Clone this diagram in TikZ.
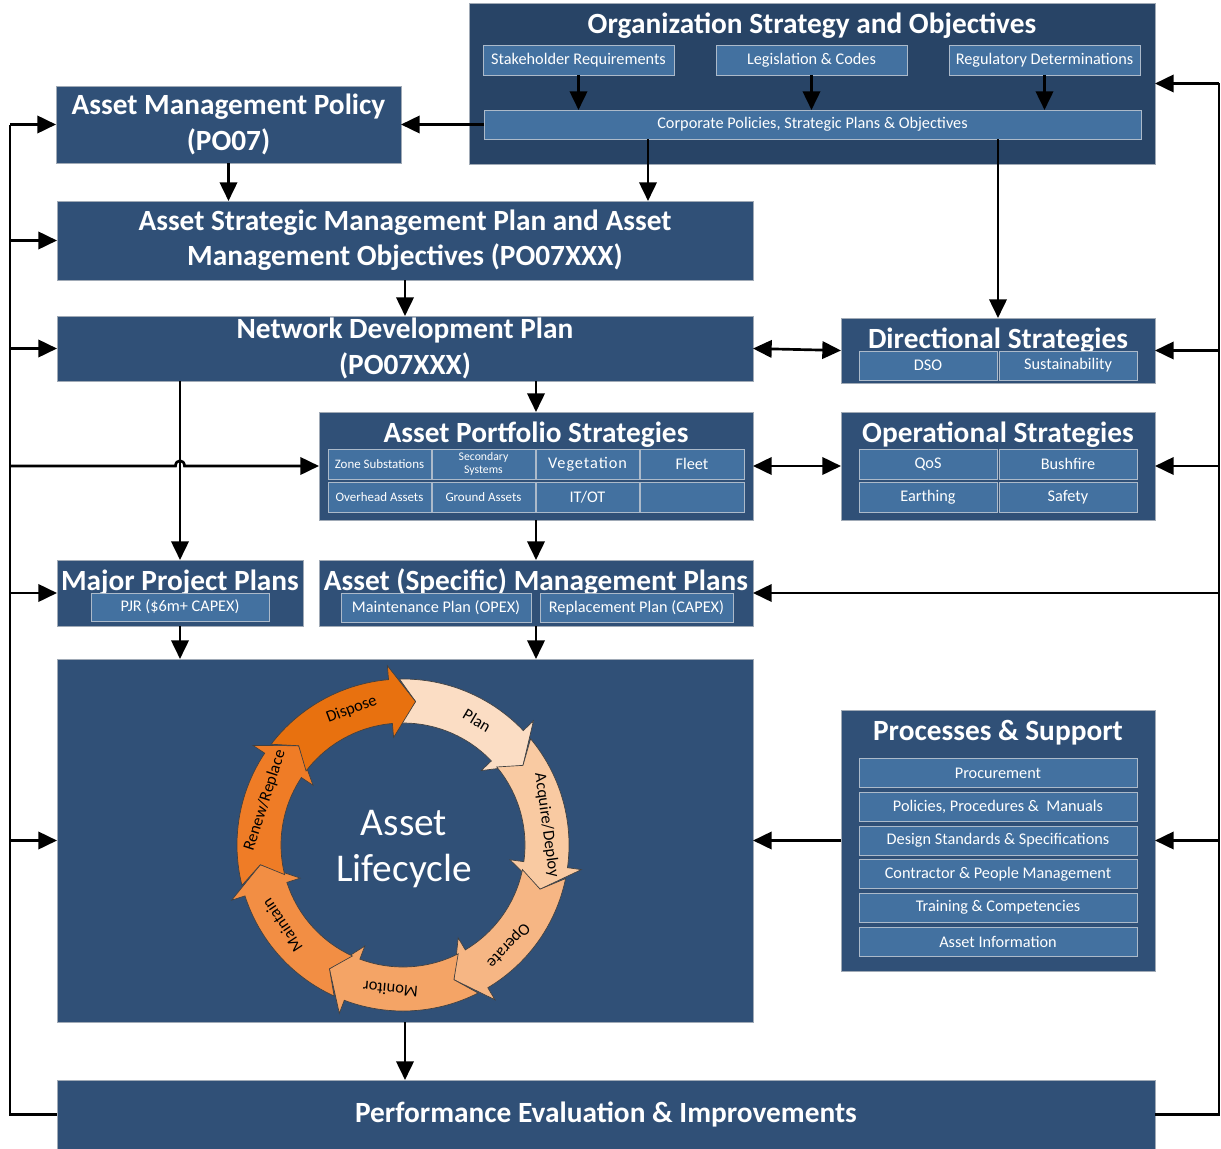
\documentclass[tikz,border=0pt]{standalone}
\usepackage{fontspec}
\setmainfont{Carlito}
\usetikzlibrary{arrows.meta,calc}
\definecolor{dboxc}{RGB}{48,80,119}
\definecolor{oboxc}{RGB}{40,68,102}
\definecolor{sboxc}{RGB}{67,113,160}
\definecolor{sedgec}{RGB}{172,186,202}
\definecolor{bedgec}{RGB}{160,170,182}
\definecolor{cplan}{RGB}{251,221,196}
\definecolor{cacq}{RGB}{249,202,162}
\definecolor{coper}{RGB}{246,182,132}
\definecolor{cmon}{RGB}{244,164,102}
\definecolor{cmaint}{RGB}{242,142,68}
\definecolor{crenew}{RGB}{239,124,38}
\definecolor{cdisp}{RGB}{232,113,15}
\tikzset{
  dark/.style={fill=dboxc, draw=bedgec, line width=0.6pt, inner sep=0pt, outer sep=0pt, text=white, align=center},
  orgbox/.style={dark, fill=oboxc},
  sub/.style={fill=sboxc, draw=sedgec, line width=0.7pt, inner sep=0pt, outer sep=0pt, text=white, align=center, font=\fontsize{12.2}{13}\selectfont},
  small/.style={font=\fontsize{9.7}{11}\selectfont},
  tiny/.style={font=\fontsize{8.8}{9.6}\selectfont},
  title/.style={text=white, font=\bfseries\fontsize{22}{26}\selectfont, inner sep=0pt, align=center},
  titlefont/.style={font=\bfseries\fontsize{22}{26.5}\selectfont},
  pefont/.style={font=\bfseries\fontsize{22}{26}\selectfont},
  conn/.style={line width=2pt, -{Triangle[length=14pt,width=13pt]}},
  both/.style={line width=2pt, {Triangle[length=14pt,width=13pt]}-{Triangle[length=14pt,width=13pt]}},
  wire/.style={line width=2pt},
  segline/.style={draw=black!75, line width=0.5pt},
  segtext/.style={font=\fontsize{12.4}{14}\selectfont, text=black, inner sep=0pt},
}
% #1 extra style, #2 style, #3 name, #4-#7 corners, #8 text
\newcommand\bx[8][]{\node[#2,#1,minimum width={(#6-#4)*0.75pt},minimum height={(#7-#5)*0.75pt}] (#3) at ({(#4+#6)/2},{(#5+#7)/2}) {#8};}
% cycle segment: #1 colour, #2 previous tip angle, #3 tip angle, #4 label
\newcommand\cycseg[4]{%
  \pgfmathsetmacro\sga{#2+6.2}%
  \pgfmathsetmacro\sgb{#3+10}%
  \pgfmathsetmacro\sgmid{(#2+#3)/2}%
  \pgfmathsetmacro\sgrot{\sgmid-90}%
  \draw[segline, fill=#1] (\sga:166) -- plot[domain=\sga:\sgb, samples=40] (\x:166)
     -- (\sgb:180) -- (#3:144) -- (\sgb:108) -- (\sgb:122)
     -- plot[domain=\sgb:\sga, samples=40] (\x:122) -- (#2:144) -- cycle;
  \node[segtext, rotate=\sgrot] at (\sgmid:145) {#4};
}
\begin{document}
\begin{tikzpicture}[x=0.75pt,y=-0.75pt]
\useasboundingbox (0,0) rectangle (1221,1149);
\coordinate (L) at (10,0);
\coordinate (R) at (1219,0);
\coordinate (c648) at (648,0);

% Organization strategy
\bx{orgbox}{org}{469}{3}{1155}{164}{}
\node[title] (orgt) at (812,26) {Organization Strategy and Objectives};
\bx{sub}{stake}{483}{45}{674}{75}{Stakeholder Requirements}
\bx{sub}{legis}{716}{45}{907}{75}{Legislation \& Codes}
\bx{sub}{regul}{949}{45}{1140}{75}{Regulatory Determinations}
\bx{sub}{corp}{484}{110}{1141}{139}{Corporate Policies, Strategic Plans \& Objectives}

% Left column plans
\bx[titlefont]{dark}{amp}{56}{86}{401}{163}{Asset Management Policy\\(PO07)}
\bx[titlefont]{dark}{asmp}{57}{201}{753}{280}{Asset Strategic Management Plan and Asset\\Management Objectives (PO07XXX)}
\bx[titlefont]{dark}{ndp}{57}{316}{753}{381}{Network Development Plan\\(PO07XXX)}

% Directional strategies
\bx{dark}{dir}{841}{318}{1155}{383}{}
\node[title] (dirt) at (998,341) {Directional Strategies};
\bx{sub}{dso}{859}{351}{997}{380}{DSO}
\bx{sub}{sust}{999}{351}{1137}{380}{Sustainability}

% Asset portfolio strategies
\bx{dark}{aps}{319}{412}{753}{520}{}
\node[title] (apst) at (536,435) {Asset Portfolio Strategies};
\bx[small]{sub}{zone}{328}{449}{431}{479}{Zone Substations}
\bx[tiny]{sub}{secs}{432}{449}{535}{479}{Secondary\\Systems}
\bx{sub}{veg}{536}{449}{639}{479}{\addfontfeature{LetterSpace=6}Vegetation}
\bx{sub}{fleet}{640}{449}{744}{479}{Fleet}
\bx[small]{sub}{ovh}{328}{482}{431}{512}{Overhead Assets}
\bx[small]{sub}{gnd}{432}{482}{535}{512}{Ground Assets}
\bx{sub}{itot}{536}{482}{639}{512}{IT/OT}
\bx{sub}{blank}{640}{482}{744}{512}{}

% Operational strategies
\bx{dark}{ops}{841}{412}{1155}{520}{}
\node[title] (opst) at (998,435) {Operational Strategies};
\bx{sub}{qos}{859}{449}{997}{479}{QoS}
\bx{sub}{bush}{999}{449}{1137}{479}{Bushfire}
\bx{sub}{earth}{859}{482}{997}{512}{Earthing}
\bx{sub}{safe}{999}{482}{1137}{512}{Safety}

% Major project plans
\bx{dark}{mpp}{57}{560}{303}{626}{}
\node[title] (mppt) at (180,583) {Major Project Plans};
\bx{sub}{pjr}{91}{593}{269}{621}{PJR (\$6m+ CAPEX)}

% Asset specific management plans
\bx{dark}{aspmp}{319}{560}{753}{626}{}
\node[title] (aspmpt) at (536,582) {Asset (Specific) Management Plans};
\bx{sub}{maintp}{341}{593}{531}{622}{Maintenance Plan (OPEX)}
\bx{sub}{replp}{540}{593}{733}{622}{Replacement Plan (CAPEX)}

% Lifecycle
\bx{dark}{lc}{57}{659}{753}{1022}{}
\begin{scope}[shift={(403,845)}, yscale=-1]
  \cycseg{cplan}{85}{33.57}{Plan}
  \cycseg{cacq}{33.57}{-17.86}{Acquire/Deploy}
  \cycseg{coper}{-17.86}{-69.29}{Operate}
  \cycseg{cmon}{-69.29}{-120.72}{Monitor}
  \cycseg{cmaint}{-120.72}{-172.15}{Maintain}
  \cycseg{crenew}{-172.15}{-223.58}{Renew/Replace}
  \cycseg{cdisp}{-223.58}{-275.01}{Dispose}
\end{scope}
\node[text=white, font=\fontsize{29.5}{35}\selectfont, align=center] (lct) at (404,849) {Asset\\Lifecycle};

% Processes & support
\bx{dark}{proc}{841}{710}{1155}{971}{}
\node[title] (proct) at (998,733) {Processes \& Support};
\bx{sub}{p1}{859}{758.5}{1137}{787.5}{Procurement}
\bx{sub}{p2}{859}{792}{1137}{821}{Policies, Procedures \&\ \ Manuals}
\bx{sub}{p3}{859}{826}{1137}{855}{Design Standards \& Specifications}
\bx{sub}{p4}{859}{859.5}{1137}{888.5}{Contractor \& People Management}
\bx{sub}{p5}{859}{893}{1137}{922}{Training \& Competencies}
\bx{sub}{p6}{859}{927}{1137}{956}{Asset Information}

% Performance evaluation
\bx[pefont]{dark}{pe}{57}{1080}{1155}{1149}{Performance Evaluation \& Improvements}

% ---------- connectors ----------
\draw[conn] (stake.south) -- (stake.south |- corp.north);
\draw[conn] (legis.south) -- (legis.south |- corp.north);
\draw[conn] (regul.south) -- (regul.south |- corp.north);
\draw[conn] (corp.west) -- (amp.east |- corp.west);
\draw[conn] (amp.south) -- (amp.south |- asmp.north);
\draw[conn] (corp.south -| c648) -- (asmp.north -| c648);
\draw[conn] (dir.north |- corp.south) -- (dir.north);
\draw[conn] (asmp.south) -- (asmp.south |- ndp.north);
\draw[both] (ndp.east) -- (dir.west);
\draw[conn] (aps.north |- ndp.south) -- (aps.north);
\draw[both] (aps.east) -- (ops.west);
\draw[conn] (aps.south) -- (aspmp.north);
\draw[conn] (mpp.north |- ndp.south) -- (mpp.north);
\draw[conn] (mpp.south) -- (mpp.south |- lc.north);
\draw[conn] (aspmp.south) -- (aspmp.south |- lc.north);
\draw[conn] (lc.south) -- (lc.south |- pe.north);
\draw[conn] (proc.west) -- (proc.west -| lc.east);

% left feedback loop
\coordinate (jmp) at (mpp.north |- aps.west);
\draw[wire] (pe.west) -- (L |- pe.west) -- (L |- amp.west);
\draw[conn] (L |- amp.west) -- (amp.west);
\draw[conn] (L |- asmp.west) -- (asmp.west);
\draw[conn] (L |- ndp.west) -- (ndp.west);
\draw[conn] (L |- aps.west) -- ($(jmp)+(-4.5,0)$) .. controls ($(jmp)+(-4.5,-7)$) and ($(jmp)+(4.5,-7)$) .. ($(jmp)+(4.5,0)$) -- (aps.west);
\draw[conn] (L |- mpp.west) -- (mpp.west);
\draw[conn] (L |- lc.west) -- (lc.west);

% right feedback loop
\draw[wire] (pe.east) -- (R |- pe.east) -- (R |- org.east);
\draw[conn] (R |- org.east) -- (org.east);
\draw[conn] (R |- dir.east) -- (dir.east);
\draw[conn] (R |- ops.east) -- (ops.east);
\draw[conn] (R |- aspmp.east) -- (aspmp.east);
\draw[conn] (R |- proc.east) -- (proc.east);
\end{tikzpicture}
\end{document}
